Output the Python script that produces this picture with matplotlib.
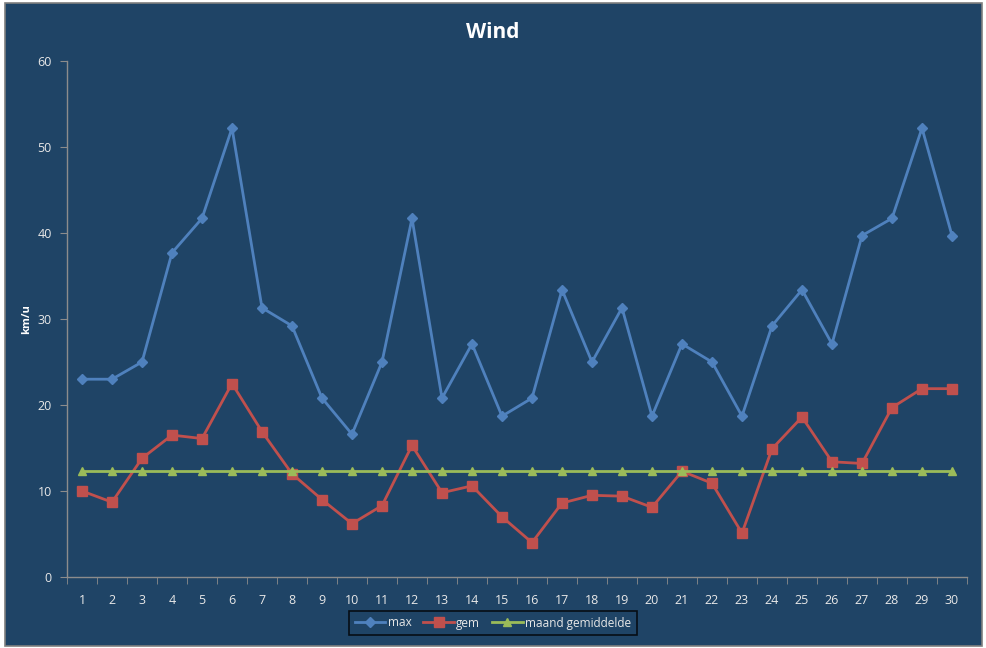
import matplotlib
matplotlib.use("Agg")
import matplotlib.pyplot as plt
from matplotlib.patches import Rectangle

# daily values (km/u)
days = list(range(1, 31))
max_wind = [23.0, 23.0, 25.0, 37.7, 41.7, 52.2, 31.3, 29.2, 20.8, 16.6,
            25.0, 41.7, 20.8, 27.1, 18.7, 20.8, 33.4, 25.0, 31.3, 18.7,
            27.1, 25.0, 18.7, 29.2, 33.4, 27.1, 39.7, 41.7, 52.2, 39.7]
gem_wind = [10.0, 8.7, 13.8, 16.5, 16.1, 22.5, 16.9, 12.0, 9.0, 6.2,
            8.3, 15.3, 9.8, 10.6, 7.0, 4.0, 8.6, 9.5, 9.4, 8.1,
            12.3, 10.9, 5.1, 14.9, 18.6, 13.4, 13.2, 19.7, 21.9, 21.9]
maand_gem = [12.3] * 30

bg = "#1F4466"
txt = "#E8E8E8"
axis_col = "#8C8C8C"

plt.rcParams['font.family'] = ['Open Sans', 'DejaVu Sans']

fig = plt.figure(figsize=(9.87, 6.48), dpi=100, facecolor="white")
W, H = 987, 648
fig.patches.append(Rectangle((5 / W, 2 / H), 977 / W, 643 / H, transform=fig.transFigure,
                             facecolor=bg, edgecolor="#7F7F7F", linewidth=1.2, zorder=-10))

ax = fig.add_axes([67 / W, (H - 577) / H, 900 / W, 516 / H])
ax.set_facecolor("none")

ax.plot(days, max_wind, color="#4F81BD", lw=2, marker="D", ms=5, label="max")
ax.plot(days, gem_wind, color="#C0504D", lw=2, marker="s", ms=6.5, label="gem")
ax.plot(days, maand_gem, color="#9BBB59", lw=2, marker="^", ms=6, label="maand gemiddelde")

ax.set_xlim(0.5, 30.5)
ax.set_ylim(0, 60)
ax.set_yticks(range(0, 61, 10))
ax.set_xticks(days)
ax.set_xticks([d + 0.5 for d in range(0, 31)], minor=True)

for s in ["top", "right"]:
    ax.spines[s].set_visible(False)
for s in ["left", "bottom"]:
    ax.spines[s].set_color(axis_col)
    ax.spines[s].set_linewidth(1)

ax.tick_params(axis="x", which="major", length=0, pad=12, colors=txt, labelsize=9)
ax.tick_params(axis="x", which="minor", length=5, color=axis_col)
ax.tick_params(axis="y", length=5, color=axis_col, labelcolor=txt, labelsize=9, pad=6)

ax.set_ylabel("km/u", color="white", fontsize=8, fontweight="bold")
ax.yaxis.set_label_coords(-35 / 900, 0.5)
fig.text(493 / W, 1 - 32 / H, "Wind", color="white", fontsize=15, fontweight="bold",
         ha="center", va="center")

leg = ax.legend(loc="center", bbox_to_anchor=(493 / W, 1 - 623 / H), bbox_transform=fig.transFigure,
                ncol=3, frameon=True, fontsize=8.5, handlelength=2.6, columnspacing=1.0,
                handletextpad=0.2, borderpad=0.45, fancybox=False)
leg.get_frame().set_facecolor(bg)
leg.get_frame().set_edgecolor("black")
leg.get_frame().set_linewidth(1.2)
for t in leg.get_texts():
    t.set_color(txt)

fig.savefig("out.png", dpi=100, facecolor="white")
